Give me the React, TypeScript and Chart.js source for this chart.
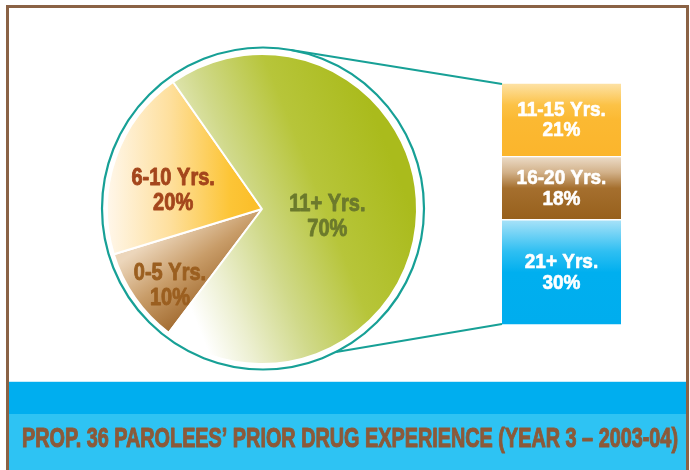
import React, { useEffect, useRef } from 'react';
import { Chart, registerables } from 'chart.js';

Chart.register(...registerables);

// ---- data ----
const pieLabels = ['0-5 Yrs.', '6-10 Yrs.', '11+ Yrs.'];
const pieValues = [10, 20, 70];
// breakdown of the 11+ slice, listed bottom to top of the stacked box
const breakdownLabels = ['21+ Yrs.', '16-20 Yrs.', '11-15 Yrs.'];
const breakdownValues = [30, 18, 21];
const titleText = 'PROP. 36 PAROLEES\u2019 PRIOR DRUG EXPERIENCE (YEAR 3 \u2013 2003-04)';

// ---- layout / style ----
const W = 690;
const H = 470;
const PIE_CX = 262;
const PIE_CY = 209;
const PIE_R = 155;
const RING_R = 161;
const BOX = { left: 502, right: 621, top: 83, bottom: 325 };
const TEAL = '#17a096';
const FONT = '"Liberation Sans", Arial, Helvetica, sans-serif';
const pieLabelColors = ['#9b5f20', '#a4461c', '#6c7a2c'];
// label placement: canvas angle (deg) and fraction of radius
const pieLabelPlace = [
  { angle: 140, frac: 0.775 },
  { angle: 191.5, frac: 0.585 },
  { angle: 7, frac: 0.425 },
];

function pieFill(chart: any, index: number) {
  const c = chart.ctx as CanvasRenderingContext2D;
  const cx = PIE_CX;
  const cy = PIE_CY;
  if (index === 0) {
    const g = c.createLinearGradient(cx - 140, cy + 52, cx - 90, cy + 122);
    g.addColorStop(0, '#ecd6bb');
    g.addColorStop(0.5, '#c89c68');
    g.addColorStop(1, '#a26b30');
    return g;
  }
  if (index === 1) {
    const g = c.createLinearGradient(cx - 158, 0, cx - 10, 0);
    g.addColorStop(0, '#fff8ee');
    g.addColorStop(0.45, '#fedf9c');
    g.addColorStop(0.85, '#fcc537');
    g.addColorStop(1, '#fbbf2b');
    return g;
  }
  const g = c.createLinearGradient(cx + 150, cy, cx - 100, cy + 100);
  g.addColorStop(0, '#aabb1c');
  g.addColorStop(0.3, '#b7c53a');
  g.addColorStop(0.55, '#d0d98a');
  g.addColorStop(0.75, '#ecefd0');
  g.addColorStop(0.9, '#ffffff');
  return g;
}

const barStops: [number, string][][] = [
  [[0, '#a9e2f8'], [0.3, '#2fbff2'], [0.5, '#00afef'], [1, '#00adee']],
  [[0, '#ecdcc8'], [0.25, '#d2b189'], [0.5, '#a56f2e'], [1, '#97601c']],
  [[0, '#fde3a8'], [0.3, '#fcc246'], [0.5, '#fbb932'], [1, '#fbb52c']],
];
const barSolid = ['#00adee', '#97601c', '#fbb52c'];

function barFill(ctx: any) {
  const chart = ctx.chart;
  const i = ctx.datasetIndex;
  const y = chart.scales && chart.scales.y;
  if (!chart.chartArea || !y) return barSolid[i];
  let base = 0;
  for (let k = 0; k < i; k++) base += breakdownValues[k];
  const top = base + breakdownValues[i];
  const y0 = y.getPixelForValue(top);
  const y1 = y.getPixelForValue(base);
  const g = (chart.ctx as CanvasRenderingContext2D).createLinearGradient(0, y0, 0, y1);
  barStops[i].forEach(([o, col]) => g.addColorStop(o, col));
  return g;
}

function drawScaledText(c: CanvasRenderingContext2D, text: string, x: number, y: number, sx: number, heavy = 0) {
  c.save();
  c.translate(x, y);
  c.scale(sx, 1);
  c.fillText(text, 0, 0);
  if (heavy > 0) {
    c.lineWidth = heavy;
    c.lineJoin = 'round';
    c.strokeStyle = c.fillStyle as string;
    c.strokeText(text, 0, 0);
  }
  c.restore();
}

export default function App() {
  const pieRef = useRef<HTMLCanvasElement>(null);
  const barRef = useRef<HTMLCanvasElement>(null);

  useEffect(() => {
    if (!pieRef.current || !barRef.current) return;

    const backgroundPlugin = {
      id: 'pageBackground',
      beforeDraw(chart: any) {
        const c = chart.ctx as CanvasRenderingContext2D;
        c.save();
        c.fillStyle = '#ffffff';
        c.fillRect(0, 0, W, H);
        // blue bands
        c.fillStyle = '#00aeef';
        c.fillRect(9, 382, 677, 32);
        c.fillStyle = '#c8ecfa';
        c.fillRect(9, 381, 677, 1);
        c.fillStyle = '#2ec3f3';
        c.fillRect(9, 414, 677, 56);
        // frame
        c.strokeStyle = '#8a6245';
        c.lineWidth = 3;
        c.strokeRect(7.5, 6.5, 680, 480);
        // title
        c.fillStyle = '#8b5a3a';
        c.font = 'bold 28px ' + FONT;
        c.textBaseline = 'alphabetic';
        c.textAlign = 'left';
        const w = c.measureText(titleText).width;
        drawScaledText(c, titleText, 22, 447, 656 / w, 1.1);
        c.restore();
      },
    };

    const pieDecor = {
      id: 'pieDecor',
      afterDatasetsDraw(chart: any) {
        const c = chart.ctx as CanvasRenderingContext2D;
        const meta = chart.getDatasetMeta(0);
        const arc = meta.data[0];
        const cx = arc.x;
        const cy = arc.y;
        const r = arc.outerRadius;
        c.save();
        c.beginPath();
        c.arc(cx + 1, cy - 0.5, RING_R, 0, Math.PI * 2);
        c.strokeStyle = TEAL;
        c.lineWidth = 2.2;
        c.stroke();
        c.font = 'bold 23px ' + FONT;
        c.textAlign = 'center';
        c.textBaseline = 'middle';
        pieLabels.forEach((lab, i) => {
          const p = pieLabelPlace[i];
          const a = (p.angle * Math.PI) / 180;
          const x = cx + Math.cos(a) * r * p.frac;
          const y = cy + Math.sin(a) * r * p.frac;
          c.fillStyle = pieLabelColors[i];
          drawScaledText(c, lab, x, y - 12.5, 0.87, 0.9);
          drawScaledText(c, pieValues[i] + '%', x, y + 12.5, 0.87, 0.9);
        });
        c.restore();
      },
    };

    const pie = new Chart(pieRef.current, {
      type: 'pie',
      data: {
        labels: pieLabels,
        datasets: [
          {
            data: pieValues,
            backgroundColor: (ctx: any) => pieFill(ctx.chart, ctx.dataIndex),
            borderColor: '#ffffff',
            borderWidth: 2,
          },
        ],
      },
      options: {
        responsive: false,
        animation: false,
        devicePixelRatio: 1,
        rotation: 217,
        radius: PIE_R,
        layout: {
          padding: {
            left: PIE_CX - 160,
            top: PIE_CY - 160,
            right: W - (PIE_CX + 160),
            bottom: H - (PIE_CY + 160),
          },
        },
        plugins: { legend: { display: false }, tooltip: { enabled: false } },
      } as any,
      plugins: [backgroundPlugin, pieDecor],
    });

    const total = breakdownValues.reduce((a, b) => a + b, 0);

    const barDecor = {
      id: 'barDecor',
      afterDatasetsDraw(chart: any) {
        const c = chart.ctx as CanvasRenderingContext2D;
        c.save();
        // connectors from the ring to the box
        const pm = pie.getDatasetMeta(0).data[0] as any;
        const rcx = pm.x + 1;
        const rcy = pm.y - 0.5;
        const first = chart.getDatasetMeta(0).data[0] as any;
        const last = chart.getDatasetMeta(breakdownValues.length - 1).data[0] as any;
        const left = first.x - first.width / 2;
        const topY = last.y;
        const botY = first.base;
        const aTop = (-80 * Math.PI) / 180;
        const aBot = (63 * Math.PI) / 180;
        c.strokeStyle = TEAL;
        c.lineWidth = 2;
        c.beginPath();
        c.moveTo(rcx + Math.cos(aTop) * RING_R, rcy + Math.sin(aTop) * RING_R);
        c.lineTo(left, topY + 1);
        c.moveTo(rcx + Math.cos(aBot) * RING_R, rcy + Math.sin(aBot) * RING_R);
        c.lineTo(left, botY - 1);
        c.stroke();
        // segment labels
        c.fillStyle = '#ffffff';
        c.font = 'bold 20px ' + FONT;
        c.textAlign = 'center';
        c.textBaseline = 'middle';
        breakdownLabels.forEach((lab, i) => {
          const el = chart.getDatasetMeta(i).data[0] as any;
          const cy = (el.y + el.base) / 2;
          drawScaledText(c, lab, el.x, cy - 9.5, 0.95, 0.6);
          drawScaledText(c, breakdownValues[i] + '%', el.x, cy + 11, 0.95, 0.6);
        });
        c.restore();
      },
    };

    const bar = new Chart(barRef.current, {
      type: 'bar',
      data: {
        labels: [''],
        datasets: breakdownValues.map((v, i) => ({
          label: breakdownLabels[i],
          data: [v],
          backgroundColor: barFill,
          borderColor: '#ffffff',
          borderWidth: { top: 1, bottom: 1, left: 0, right: 0 },
          borderSkipped: false,
          barPercentage: 1,
          categoryPercentage: 1,
        })),
      },
      options: {
        responsive: false,
        animation: false,
        devicePixelRatio: 1,
        layout: {
          padding: {
            left: BOX.left,
            right: W - BOX.right,
            top: BOX.top,
            bottom: H - BOX.bottom,
          },
        },
        scales: {
          x: { stacked: true, display: false },
          y: { stacked: true, display: false, min: 0, max: total },
        },
        plugins: { legend: { display: false }, tooltip: { enabled: false } },
      } as any,
      plugins: [barDecor],
    });

    return () => {
      bar.destroy();
      pie.destroy();
    };
  }, []);

  return (
    <div style={{ position: 'absolute', left: 0, top: 0, width: W, height: H, overflow: 'hidden' }}>
      <canvas ref={pieRef} width={W} height={H} style={{ position: 'absolute', left: 0, top: 0, display: 'block' }} />
      <canvas ref={barRef} width={W} height={H} style={{ position: 'absolute', left: 0, top: 0, display: 'block' }} />
    </div>
  );
}
